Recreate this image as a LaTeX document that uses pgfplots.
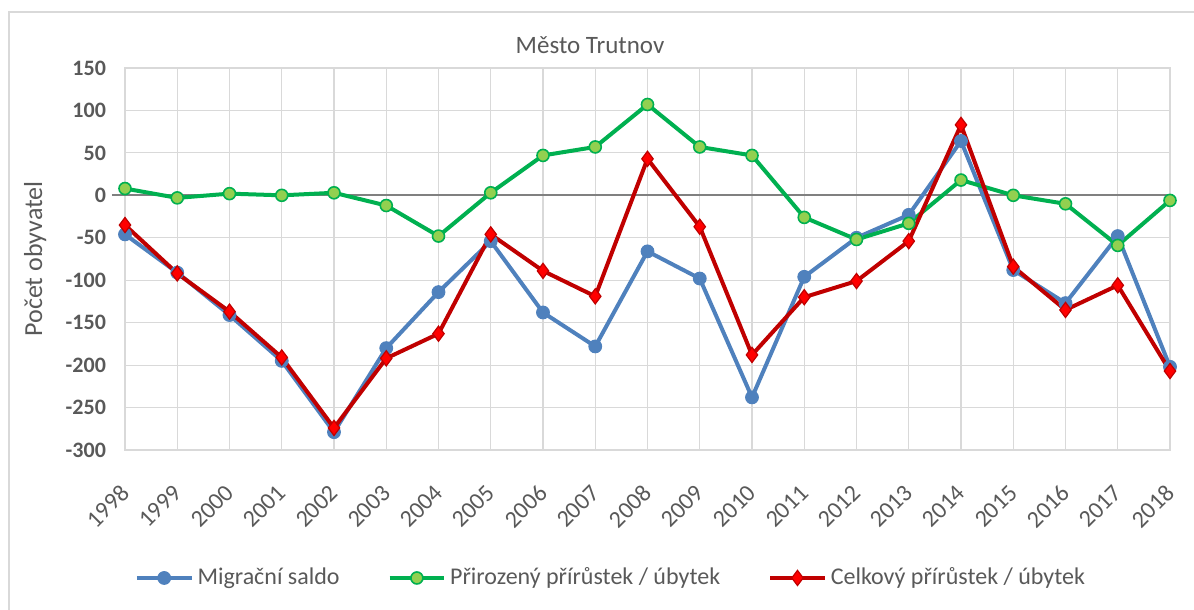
\documentclass[border=0pt]{standalone}
\usepackage{pgfplots}
\pgfplotsset{compat=1.18}
\usepackage{fontspec}
\setmainfont{Carlito}
\definecolor{gridgrey}{HTML}{D9D9D9}
\definecolor{txtgrey}{HTML}{595959}
\definecolor{zerogrey}{HTML}{808080}
\definecolor{cblue}{HTML}{4F81BD}
\definecolor{cgreen}{HTML}{00B050}
\definecolor{cgreenf}{HTML}{92D050}
\definecolor{cred}{HTML}{C00000}
\definecolor{credf}{HTML}{FF0000}
\begin{document}
\begin{tikzpicture}
\path[use as bounding box] (-62.5pt,-80pt) rectangle (534.5pt,225pt);
\draw[gridgrey, line width=1pt] (-58pt,-80pt) -- (-58pt,219pt) -- (534.5pt,219pt);
\begin{axis}[
  scale only axis, width=522.5pt, height=191pt,
  xmin=1998, xmax=2018, ymin=-300, ymax=150,
  xtick={1998,...,2018}, ytick={-300,-250,...,150},
  /pgf/number format/assume math mode=true,
  xticklabel={\pgfmathprintnumber[1000 sep={}]{\tick}},
  grid=major, major grid style={gridgrey, line width=0.6pt},
  axis line style={gridgrey, line width=0.6pt},
  major tick length=0pt,
  yticklabel style={font=\fontsize{11}{12}\selectfont\bfseries, text=txtgrey, xshift=-6pt},
  xticklabel style={font=\fontsize{12}{13}\selectfont, text=txtgrey, xshift=2.5pt, yshift=-17pt, rotate=45, anchor=east},
  ylabel={Počet obyvatel},
  ylabel style={font=\fontsize{13}{15}\selectfont, text=txtgrey, at={(axis description cs:-0.086,0.5)}, anchor=center},
  legend style={at={(axis description cs:0.466,-0.335)}, anchor=center, legend columns=3, draw=none, fill=none, font=\fontsize{12}{14}\selectfont, text=txtgrey, /tikz/every even column/.append style={column sep=22pt}},
  legend cell align=left,
  legend image code/.code={\draw[mark repeat=2,mark phase=2] plot coordinates {(0cm,0cm) (0.48cm,0cm) (0.96cm,0cm)};},
  clip=false,
]
\draw[zerogrey, line width=1.1pt] ([xshift=-6.5pt]axis cs:1998,0) -- (axis cs:2018,0);
\addplot[cblue, line width=2pt, mark=*, mark size=3.2pt, mark options={fill=cblue, draw=cblue, line width=0.5pt}] coordinates {
(1998,-46) (1999,-91) (2000,-141) (2001,-195) (2002,-279) (2003,-180) (2004,-114)
(2005,-54) (2006,-138) (2007,-178) (2008,-66) (2009,-98) (2010,-238) (2011,-96)
(2012,-50) (2013,-23) (2014,64) (2015,-88) (2016,-127) (2017,-48) (2018,-202)};
\addlegendentry{Migrační saldo}
\addplot[cgreen, line width=2pt, mark=*, mark size=3pt, mark options={fill=cgreenf, draw=cgreen, line width=0.8pt}] coordinates {
(1998,8) (1999,-3) (2000,2) (2001,0) (2002,3) (2003,-12) (2004,-48)
(2005,3) (2006,47) (2007,57) (2008,107) (2009,57) (2010,47) (2011,-26)
(2012,-52) (2013,-33) (2014,18) (2015,0) (2016,-10) (2017,-59) (2018,-6)};
\addlegendentry{Přirozený přírůstek / úbytek}
\addplot[cred, line width=2pt, mark=diamond*, mark size=3.8pt, mark options={fill=credf, draw=cred, line width=0.6pt}] coordinates {
(1998,-35) (1999,-92) (2000,-137) (2001,-191) (2002,-274) (2003,-192) (2004,-163)
(2005,-46) (2006,-89) (2007,-119) (2008,43) (2009,-37) (2010,-188) (2011,-120)
(2012,-101) (2013,-54) (2014,83) (2015,-84) (2016,-135) (2017,-106) (2018,-207)};
\addlegendentry{Celkový přírůstek / úbytek}
\node[font=\fontsize{12.5}{14}\selectfont, text=txtgrey, anchor=center] at (axis description cs:0.445,1.06) {Město Trutnov};
\end{axis}
\end{tikzpicture}
\end{document}
